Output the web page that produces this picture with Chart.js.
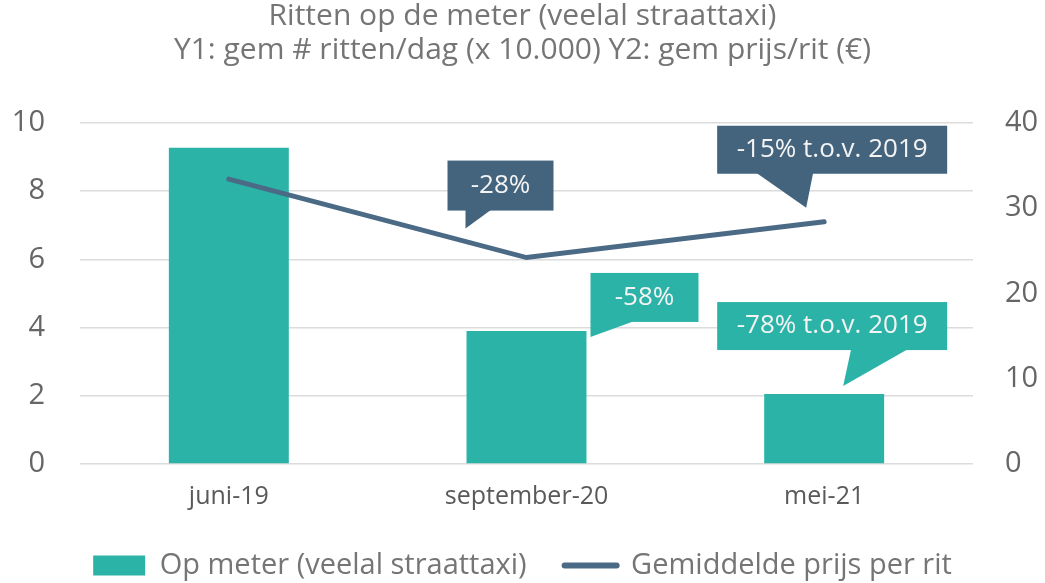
<!DOCTYPE html>
<html>
<head>
<meta charset="utf-8">
<script src="https://cdn.jsdelivr.net/npm/chart.js@4.4.1/dist/chart.umd.min.js"></script>
<style>
  html, body { margin: 0; padding: 0; background: #fff; }
  #wrap { width: 1045px; height: 583px; }
</style>
</head>
<body>
<div id="wrap"><canvas id="taxiChart" width="1045" height="583"></canvas></div>
<script>
// Data
const categories = ['juni-19', 'september-20', 'mei-21'];
const rittenPerDag = [9.27, 3.9, 2.05];      // Y1, x 10.000
const prijsPerRit = [33.4, 24.2, 28.4];      // Y2, euro
const titleLines = ['Ritten op de meter (veelal straattaxi)', 'Y1: gem # ritten/dag (x 10.000) Y2: gem prijs/rit (€)'];
const seriesNames = ['Op meter (veelal straattaxi)', 'Gemiddelde prijs per rit'];
const calloutTexts = ['-28%', '-15% t.o.v. 2019', '-58%', '-78% t.o.v. 2019'];
const calloutSeries = [1, 1, 0, 0];   // 0 = staven, 1 = lijn
const calloutIndex = [1, 2, 1, 2];

const TEAL = '#2cb3a7';
const SLATE = '#44647e';
const LINE = '#4b6a86';
const FONT = "'Open Sans', 'Noto Sans', sans-serif";
const PLOT_BOTTOM = 464;

// Tekstballonnen (box en staart relatief t.o.v. het datapunt)
const calloutShapes = [
  { fill: SLATE, box: [-79, -97, 106, 50], tail: [[-61, -47], [-35, -47], [-61, -29]] },
  { fill: SLATE, box: [-107, -96, 230, 48], tail: [[-68, -48], [-11, -48], [-18, -14]] },
  { fill: TEAL, box: [64, -58, 108, 49], tail: [[64, -9], [108, -9], [64, 6]] },
  { fill: TEAL, box: [-107, -92, 230, 48], tail: [[27, -44], [84, -44], [19, -8]] }
];

const calloutPlugin = {
  id: 'callouts',
  afterDatasetsDraw(chart) {
    const ctx = chart.ctx;
    ctx.save();
    calloutTexts.forEach((txt, i) => {
      const meta = chart.getDatasetMeta(calloutSeries[i]);
      const el = meta.data[calloutIndex[i]];
      if (!el) return;
      const ax = el.x, ay = el.y;
      const s = calloutShapes[i];
      ctx.fillStyle = s.fill;
      ctx.fillRect(ax + s.box[0], ay + s.box[1], s.box[2], s.box[3]);
      ctx.beginPath();
      ctx.moveTo(ax + s.tail[0][0], ay + s.tail[0][1] - 1);
      ctx.lineTo(ax + s.tail[1][0], ay + s.tail[1][1] - 1);
      ctx.lineTo(ax + s.tail[2][0], ay + s.tail[2][1]);
      ctx.closePath();
      ctx.fill();
      ctx.fillStyle = '#f4f4f4';
      ctx.font = '26px ' + FONT;
      ctx.textAlign = 'center';
      ctx.textBaseline = 'middle';
      ctx.fillText(txt, ax + s.box[0] + s.box[2] / 2, ay + s.box[1] + s.box[3] / 2);
    });
    ctx.restore();
  }
};

new Chart(document.getElementById('taxiChart'), {
  type: 'bar',
  data: {
    labels: categories,
    datasets: [
      {
        label: seriesNames[0],
        data: rittenPerDag,
        backgroundColor: TEAL,
        borderWidth: 0,
        yAxisID: 'y',
        order: 1,
        categoryPercentage: 1,
        barPercentage: 0.403
      },
      {
        type: 'line',
        label: seriesNames[1],
        data: prijsPerRit,
        borderColor: LINE,
        backgroundColor: LINE,
        borderWidth: 5,
        borderCapStyle: 'round',
        pointRadius: 0,
        tension: 0,
        yAxisID: 'y2',
        order: 0
      }
    ]
  },
  options: {
    responsive: false,
    animation: false,
    layout: { padding: 0 },
    plugins: {
      title: {
        display: true,
        text: titleLines,
        color: '#757575',
        font: { family: FONT, size: 30, weight: 'normal', lineHeight: 1.13 },
        padding: { top: 0, bottom: 55 }
      },
      legend: {
        position: 'bottom',
        maxHeight: 70,
        labels: {
          color: '#757575',
          font: { family: FONT, size: 29, lineHeight: 1 },
          usePointStyle: true,
          pointStyleWidth: 52,
          boxHeight: 20,
          padding: 38,
          sort: (a, b) => a.datasetIndex - b.datasetIndex,
          generateLabels(chart) {
            const items = Chart.defaults.plugins.legend.labels.generateLabels(chart);
            items.forEach(it => {
              if (it.datasetIndex === 1) {
                it.pointStyle = 'line';
                it.strokeStyle = LINE;
                it.lineWidth = 6;
                it.lineCap = 'round';
              } else {
                it.pointStyle = 'rect';
                it.lineWidth = 0;
              }
            });
            return items;
          }
        }
      },
      tooltip: { enabled: false }
    },
    scales: {
      x: {
        grid: { display: false, drawTicks: false },
        border: { display: false },
        ticks: { color: '#595959', font: { family: FONT, size: 25 }, padding: 18 },
        afterFit(scale) {
          const lg = scale.chart.legend ? scale.chart.legend.height : 0;
          scale.height = Math.max(30, scale.chart.height - PLOT_BOTTOM - lg);
        }
      },
      y: {
        position: 'left',
        min: 0, max: 10,
        ticks: { stepSize: 2, color: '#666', font: { family: FONT, size: 29 }, padding: 35 },
        grid: { color: '#dcdcdc', lineWidth: 1.5, drawTicks: false },
        border: { display: false },
        afterFit(scale) { scale.width = 80; }
      },
      y2: {
        position: 'right',
        min: 0, max: 40,
        ticks: { stepSize: 10, color: '#666', font: { family: FONT, size: 29 }, padding: 32 },
        grid: { display: false, drawTicks: false },
        border: { display: false },
        afterFit(scale) { scale.width = 72; }
      }
    }
  },
  plugins: [calloutPlugin]
});
</script>
</body>
</html>
